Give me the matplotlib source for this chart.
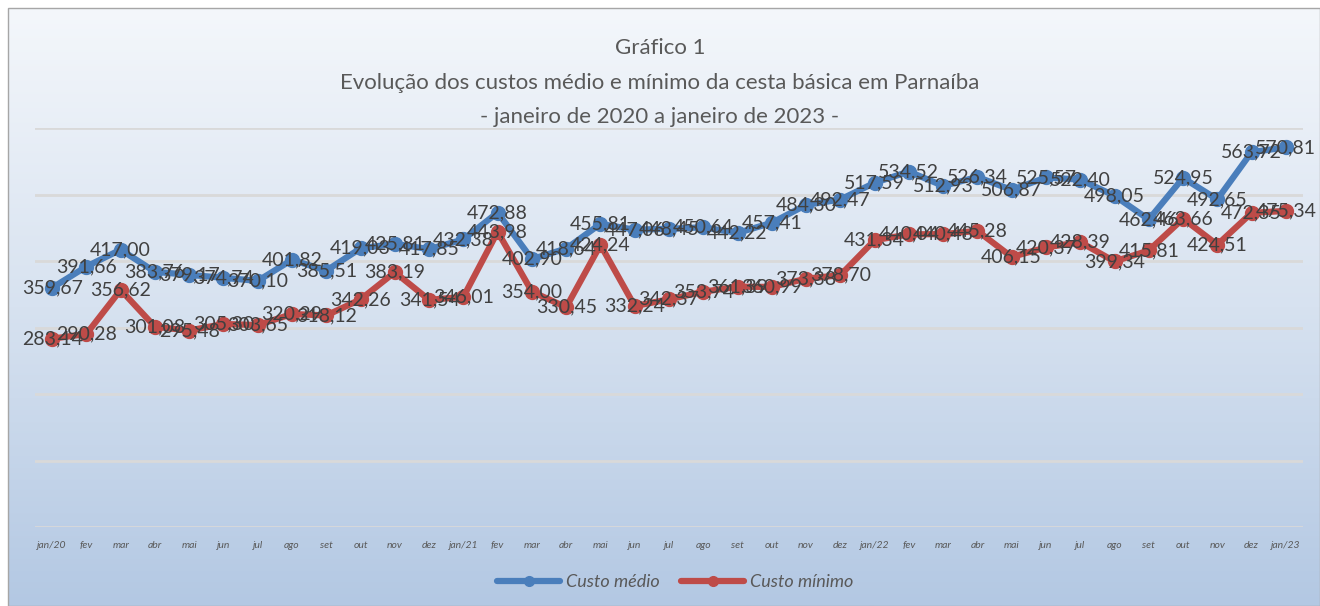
import numpy as np
import matplotlib
matplotlib.use("Agg")
import matplotlib.pyplot as plt
from matplotlib.patches import Rectangle
from matplotlib.colors import LinearSegmentedColormap

months = ["jan/20", "fev", "mar", "abr", "mai", "jun", "jul", "ago", "set", "out", "nov", "dez",
          "jan/21", "fev", "mar", "abr", "mai", "jun", "jul", "ago", "set", "out", "nov", "dez",
          "jan/22", "fev", "mar", "abr", "mai", "jun", "jul", "ago", "set", "out", "nov", "dez",
          "jan/23"]

custo_medio = [359.67, 391.66, 417.00, 383.76, 379.17, 374.74, 370.10, 401.82, 385.51, 419.03,
               425.81, 417.85, 432.38, 472.88, 402.90, 418.64, 455.81, 447.06, 448.45, 450.64,
               442.22, 457.41, 484.30, 492.47, 517.59, 534.52, 512.93, 526.34, 506.87, 525.57,
               522.40, 498.05, 462.46, 524.95, 492.65, 563.72, 570.81]

custo_minimo = [283.14, 290.28, 356.62, 301.08, 295.48, 305.30, 303.65, 320.29, 318.12, 342.26,
                383.19, 341.54, 346.01, 443.98, 354.00, 330.45, 424.24, 332.24, 342.37, 353.74,
                361.39, 360.99, 373.38, 378.70, 431.34, 440.04, 440.48, 445.28, 406.15, 420.37,
                428.39, 399.34, 415.81, 463.66, 424.51, 472.35, 475.34]

FONT = "Lato"
TXT = "#404040"

fig = plt.figure(figsize=(13.2, 6.06), dpi=100)
fig.patch.set_facecolor("white")

# gradient background of the chart area
bg = fig.add_axes([8 / 1320, 0, 1 - 8 / 1320, 1 - 8 / 606])
cmap = LinearSegmentedColormap.from_list("bg", ["#f4f7fb", "#d7e2f0", "#b3c8e3"])
bg.imshow(np.linspace(0, 1, 256).reshape(-1, 1), aspect="auto", cmap=cmap,
          extent=[0, 1, 0, 1])
bg.set_axis_off()
fig.add_artist(Rectangle((8 / 1320, 0), 1 - 8 / 1320, 1 - 8 / 606, transform=fig.transFigure,
                         fill=False, ec="#a6a6a6", lw=1))

ax = fig.add_axes([35 / 1320, 1 - 527 / 606, (1303 - 35) / 1320, (527 - 128) / 606])
ax.patch.set_alpha(0)
x = np.arange(len(months))
ax.set_xlim(-0.5, len(months) - 0.5)
ax.set_ylim(0, 600)
ax.set_yticks(np.arange(0, 601, 100))
ax.yaxis.grid(True, color="#d9d9d9", lw=2)
ax.set_axisbelow(True)
ax.tick_params(axis="y", left=False, labelleft=False)
ax.tick_params(axis="x", length=0, pad=10)
for s in ax.spines.values():
    s.set_visible(False)
ax.set_xticks(x)
ax.set_xticklabels(months, fontsize=7.5, style="italic", color="#595959", family=FONT)

series = [(custo_medio, "#4a7ebb", "Custo médio"), (custo_minimo, "#be4b48", "Custo mínimo")]
for vals, col, name in series:
    ax.plot(x, vals, color=col, lw=4.5, marker="o", ms=10, label=name,
            solid_capstyle="round", zorder=3)
for vals, col, name in series:
    for xi, v in zip(x, vals):
        ax.text(xi, v, f"{v:.2f}".replace(".", ","), ha="center", va="center",
                fontsize=14, color=TXT, family=FONT, zorder=4)

title_lines = ["Gráfico 1",
               "Evolução dos custos médio e mínimo da cesta básica em Parnaíba",
               "- janeiro de 2020 a janeiro de 2023 -"]
for line, ypx in zip(title_lines, [48, 83, 117]):
    fig.text(0.5, 1 - ypx / 606, line, ha="center", va="center",
             fontsize=16, color="#595959", family=FONT)

leg = fig.legend(loc="center", bbox_to_anchor=(675 / 1320, 1 - 582 / 606), ncol=2,
                 frameon=False, prop={"family": FONT, "size": 13, "style": "italic"},
                 handlelength=3.5, columnspacing=1.2, handletextpad=0.3, markerscale=0.7)
for t in leg.get_texts():
    t.set_color("#595959")

fig.savefig("out.png", dpi=100)
